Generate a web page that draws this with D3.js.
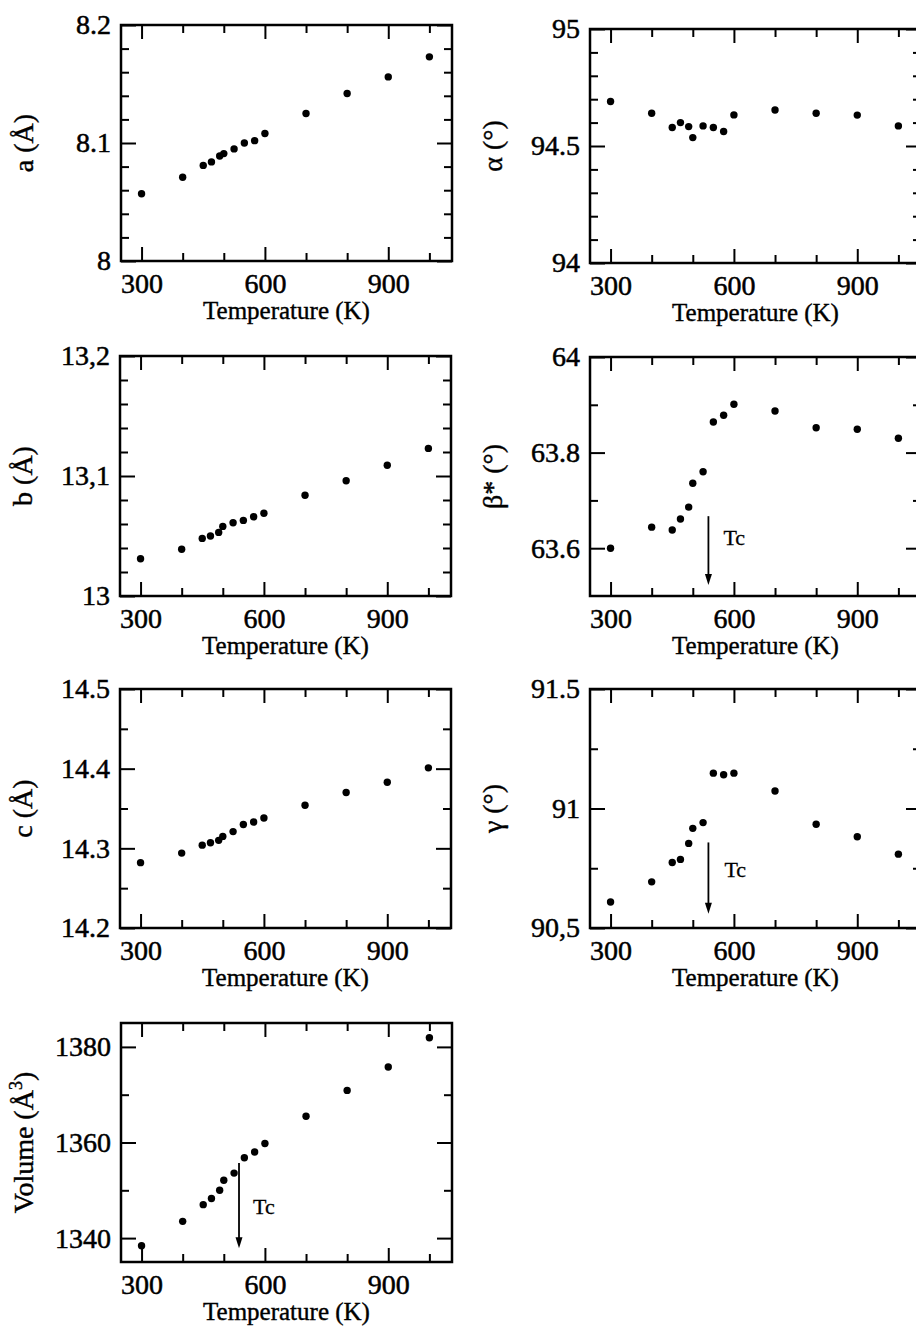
<!DOCTYPE html>
<html>
<head>
<meta charset="utf-8">
<script src="https://cdn.jsdelivr.net/npm/d3@7"></script>
<style>
body { margin: 0; background: #fff; }
text { font-family: "Liberation Serif", "Times New Roman", serif; fill: #000; }
</style>
</head>
<body>
<svg id="chart" width="916" height="1326"></svg>
<script>
// temperatures (K) shared by every panel
var temps = [300, 400, 450, 470, 490, 500, 525, 550, 575, 600, 700, 800, 900, 1000];

var aVals     = [8.057, 8.071, 8.081, 8.084, 8.089, 8.091, 8.095, 8.100, 8.102, 8.108, 8.125, 8.142, 8.156, 8.173];
var alphaVals = [94.690, 94.640, 94.579, 94.600, 94.583, 94.536, 94.586, 94.579, 94.562, 94.633, 94.654, 94.640, 94.632, 94.586];
var bVals     = [13.031, 13.039, 13.048, 13.050, 13.053, 13.058, 13.061, 13.063, 13.066, 13.069, 13.084, 13.096, 13.109, 13.123];
var betaVals  = [63.600, 63.644, 63.638, 63.661, 63.686, 63.736, 63.760, 63.864, 63.878, 63.901, 63.887, 63.852, 63.849, 63.830];
var cVals     = [14.282, 14.294, 14.304, 14.307, 14.310, 14.315, 14.321, 14.330, 14.333, 14.338, 14.354, 14.370, 14.383, 14.401];
var gammaVals = [90.609, 90.693, 90.774, 90.787, 90.854, 90.917, 90.941, 91.148, 91.141, 91.148, 91.073, 90.934, 90.882, 90.809];
var volVals   = [1338.4, 1343.5, 1347.0, 1348.3, 1350.0, 1352.1, 1353.6, 1356.8, 1358.0, 1359.8, 1365.5, 1370.9, 1375.8, 1381.9];

// x axis ticks
var xMajor = [300, 600, 900];
var xLabels = ["300", "600", "900"];
var xMinor = [400, 500, 700, 800, 1000];

// y axis ticks per panel
var aMajor = [8, 8.1, 8.2],        aLabels = ["8", "8.1", "8.2"];
var aMinor = [8.02, 8.04, 8.06, 8.08, 8.12, 8.14, 8.16, 8.18];
var alphaMajor = [94, 94.5, 95],   alphaLabels = ["94", "94.5", "95"];
var alphaMinor = [94.1, 94.2, 94.3, 94.4, 94.6, 94.7, 94.8, 94.9];
var bMajor = [13, 13.1, 13.2],     bLabels = ["13", "13,1", "13,2"];
var bMinor = [13.02, 13.04, 13.06, 13.08, 13.12, 13.14, 13.16, 13.18];
var betaMajor = [63.6, 63.8, 64],  betaLabels = ["63.6", "63.8", "64"];
var betaMinor = [63.7, 63.9];
var cMajor = [14.2, 14.3, 14.4, 14.5], cLabels = ["14.2", "14.3", "14.4", "14.5"];
var cMinor = [14.25, 14.35, 14.45];
var gammaMajor = [90.5, 91, 91.5], gammaLabels = ["90,5", "91", "91.5"];
var gammaMinor = [90.75, 91.25];
var volMajor = [1340, 1360, 1380], volLabels = ["1340", "1360", "1380"];
var volMinor = [1350, 1370];

// Tc arrows: [temperature, from value, to value]
var tcLabel = "Tc";
var betaArrow = [538, 63.667, 63.523];
var gammaArrow = [538, 90.858, 90.56];
var volArrow = [537, 1355.7, 1337.9];

var svg = d3.select("#chart");
var serif = '"Liberation Serif", "Times New Roman", serif';

var W = 331;
var panels = [
	{x0: 121, y0: 25,   h: 236, vals: aVals,     dom: [8, 8.2],      maj: aMajor,     lab: aLabels,     min: aMinor,     title: "a (Å)"},
	{x0: 590, y0: 29,   h: 234, vals: alphaVals, dom: [94, 95],      maj: alphaMajor, lab: alphaLabels, min: alphaMinor, title: "α (°)"},
	{x0: 120, y0: 356,  h: 240, vals: bVals,     dom: [13, 13.2],    maj: bMajor,     lab: bLabels,     min: bMinor,     title: "b (Å)"},
	{x0: 590, y0: 357,  h: 239, vals: betaVals,  dom: [63.5, 64],    maj: betaMajor,  lab: betaLabels,  min: betaMinor,  title: "β* (°)", arrow: betaArrow, ldx: 15, ldy: 29},
	{x0: 120, y0: 689,  h: 239, vals: cVals,     dom: [14.2, 14.5],  maj: cMajor,     lab: cLabels,     min: cMinor,     title: "c (Å)"},
	{x0: 590, y0: 689,  h: 239, vals: gammaVals, dom: [90.5, 91.5],  maj: gammaMajor, lab: gammaLabels, min: gammaMinor, title: "γ (°)", arrow: gammaArrow, ldx: 16, ldy: 35},
	{x0: 121, y0: 1023, h: 239, vals: volVals,   dom: [1335, 1385],  maj: volMajor,   lab: volLabels,   min: volMinor,   title: "Volume (Å", sup: "3", arrow: volArrow, ldx: 14, ldy: 51}
];

panels.forEach(function(p){
	var g = svg.append("g").attr("transform", "translate(" + p.x0 + "," + p.y0 + ")");
	var x = d3.scaleLinear().domain([250, 1055]).range([0, W]);
	var y = d3.scaleLinear().domain(p.dom).range([p.h, 0]);

	function styleAxis(sel){
		sel.attr("font-family", null).attr("font-size", null);
		sel.select(".domain").remove();
		sel.selectAll("line").attr("stroke", "#000").attr("stroke-width", 2);
		sel.selectAll("text").style("font-family", serif).style("font-size", "28px")
			.attr("fill", "#000").attr("stroke", "#000").attr("stroke-width", 0.5);
	}

	// major ticks with labels
	g.append("g").attr("transform", "translate(0," + p.h + ")")
		.call(d3.axisBottom(x).tickValues(xMajor).tickSize(-14).tickPadding(12)
			.tickFormat(function(d, i){ return xLabels[i]; }))
		.call(styleAxis);
	g.append("g")
		.call(d3.axisLeft(y).tickValues(p.maj).tickSize(-15).tickPadding(10)
			.tickFormat(function(d, i){ return p.lab[i]; }))
		.call(styleAxis);
	// mirrored and minor ticks
	g.append("g").call(d3.axisTop(x).tickValues(xMajor).tickSize(-14).tickFormat("")).call(styleAxis);
	g.append("g").attr("transform", "translate(" + W + ",0)")
		.call(d3.axisRight(y).tickValues(p.maj).tickSize(-15).tickFormat("")).call(styleAxis);
	g.append("g").attr("transform", "translate(0," + p.h + ")")
		.call(d3.axisBottom(x).tickValues(xMinor).tickSize(-8).tickFormat("")).call(styleAxis);
	g.append("g").call(d3.axisTop(x).tickValues(xMinor).tickSize(-8).tickFormat("")).call(styleAxis);
	g.append("g").call(d3.axisLeft(y).tickValues(p.min).tickSize(-8).tickFormat("")).call(styleAxis);
	g.append("g").attr("transform", "translate(" + W + ",0)")
		.call(d3.axisRight(y).tickValues(p.min).tickSize(-8).tickFormat("")).call(styleAxis);

	// frame
	g.append("rect").attr("width", W).attr("height", p.h)
		.attr("fill", "none").attr("stroke", "#000").attr("stroke-width", 2.5);

	// points
	g.selectAll("circle.pt").data(temps).enter().append("circle")
		.attr("class", "pt")
		.attr("cx", function(d){ return x(d); })
		.attr("cy", function(d, i){ return y(p.vals[i]); })
		.attr("r", 3.7)
		.attr("fill", "#000");

	// Tc arrow
	if (p.arrow) {
		var ax = x(p.arrow[0]), ay1 = y(p.arrow[1]), ay2 = y(p.arrow[2]);
		g.append("line").attr("x1", ax).attr("x2", ax).attr("y1", ay1).attr("y2", ay2 - 8)
			.attr("stroke", "#000").attr("stroke-width", 1.8);
		g.append("path")
			.attr("d", "M" + (ax - 3.5) + "," + (ay2 - 11) + "L" + (ax + 3.5) + "," + (ay2 - 11) + "L" + ax + "," + ay2 + "Z")
			.attr("fill", "#000");
		g.append("text").attr("x", ax + p.ldx).attr("y", ay1 + p.ldy)
			.style("font-family", serif).style("font-size", "22px")
			.attr("stroke", "#000").attr("stroke-width", 0.3)
			.text(tcLabel);
	}

	// axis titles
	g.append("text").attr("x", W / 2).attr("y", p.h + 58)
		.attr("text-anchor", "middle").style("font-family", serif).style("font-size", "25px")
		.attr("stroke", "#000").attr("stroke-width", 0.4)
		.text("Temperature (K)");
	var t = g.append("text")
		.attr("transform", "translate(" + (-88) + "," + (p.h / 2) + ") rotate(-90)")
		.attr("text-anchor", "middle").style("font-family", serif).style("font-size", "28px")
		.attr("stroke", "#000").attr("stroke-width", 0.4);
	if (p.sup) {
		t.append("tspan").text(p.title);
		t.append("tspan").attr("dy", -11).style("font-size", "18px").text(p.sup);
		t.append("tspan").attr("dy", 11).text(")");
	} else {
		t.text(p.title);
	}
});
</script>
</body>
</html>
